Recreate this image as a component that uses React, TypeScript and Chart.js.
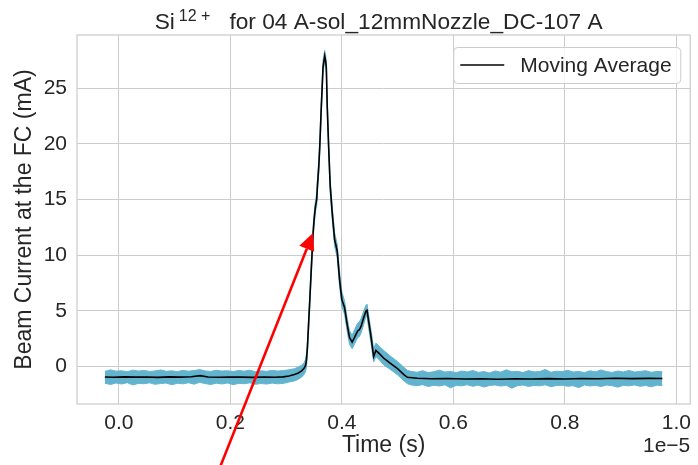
import React, { useEffect, useRef } from "react";
import { Chart, registerables } from "chart.js";

Chart.register(...registerables);

// ---- tick labels / axes (time in units of 1e-5 s) ----
const xTicks = [0, 0.2, 0.4, 0.6, 0.8, 1.0];
const yTicks = [0, 5, 10, 15, 20, 25];
const xOffsetLabel = "1e\u22125";
const xRange = [-0.075, 1.025];
const yRange = [-3.37, 29.78];

// ---- moving average (black) ----
const avgX = [
  -0.025, -0.01, 0.01, 0.03, 0.05, 0.07, 0.09, 0.11, 0.13, 0.146,
  0.16, 0.18, 0.2, 0.22, 0.24, 0.26, 0.28, 0.295, 0.305, 0.315,
  0.322, 0.328, 0.3325, 0.335, 0.3365, 0.3383, 0.3395, 0.3425, 0.3454, 0.3484,
  0.3502, 0.3525, 0.355, 0.3561, 0.3586, 0.3604, 0.3632, 0.3663, 0.3693, 0.3708,
  0.3722, 0.3739, 0.3764, 0.3792, 0.3828, 0.3871, 0.3917, 0.396, 0.4001, 0.4049,
  0.4095, 0.4138, 0.4185, 0.4227, 0.4256, 0.4286, 0.4316, 0.4345, 0.4393, 0.4434,
  0.4452, 0.4477, 0.4523, 0.4571, 0.4612, 0.4673, 0.4762, 0.4879, 0.4999, 0.5118,
  0.5177, 0.5355, 0.56, 0.59, 0.62, 0.65, 0.68, 0.71, 0.74, 0.77,
  0.8, 0.83, 0.86, 0.89, 0.92, 0.95, 0.975,
];
const avgY = [
  -0.95, -0.97, -0.93, -0.96, -0.94, -0.98, -0.93, -0.96, -0.92, -0.82,
  -0.95, -0.97, -0.94, -0.96, -0.98, -0.95, -0.97, -0.93, -0.85, -0.72,
  -0.58, -0.4, -0.15, 0.1, 0.55, 1.7, 2.9, 5.9, 8.9, 11.9,
  13.1, 14.3, 15.0, 16.1, 17.9, 19.7, 23.3, 26.9, 27.9, 27.5,
  26.9, 23.3, 19.7, 16.2, 13.8, 11.4, 10.4, 7.8, 6.0, 5.3,
  3.8, 2.6, 2.2, 2.6, 2.9, 3.2, 3.3, 3.6, 4.4, 5.0,
  5.05, 4.2, 2.7, 0.9, 1.45, 1.15, 0.7, 0.25, -0.2, -0.75,
  -0.97, -1.06, -1.1, -1.08, -1.12, -1.1, -1.14, -1.1, -1.12, -1.09,
  -1.13, -1.08, -1.1, -1.06, -1.09, -1.07, -1.08,
];

// ---- raw signal envelope (cyan band): time, upper edge, lower edge ----
const rawX = [
  -0.025, -0.015, -0.005, 0.005, 0.015, 0.025, 0.035, 0.045, 0.055, 0.065,
  0.075, 0.085, 0.095, 0.105, 0.115, 0.125, 0.135, 0.145, 0.155, 0.165,
  0.175, 0.185, 0.195, 0.205, 0.215, 0.225, 0.235, 0.245, 0.255, 0.265,
  0.275, 0.285, 0.295, 0.305, 0.315, 0.322, 0.328, 0.3325, 0.335,
  0.3365, 0.3383, 0.3395, 0.3425, 0.3454, 0.3484, 0.3502, 0.3525, 0.355, 0.3561,
  0.3586, 0.3604, 0.3632, 0.3663, 0.3693, 0.3708, 0.3722, 0.3739, 0.3764, 0.3792,
  0.3828, 0.3871, 0.3917, 0.396, 0.4001, 0.4049, 0.4095, 0.4138, 0.4185, 0.4227,
  0.4256, 0.4286, 0.4316, 0.4345, 0.4393, 0.4434, 0.4452, 0.4477, 0.4523, 0.4571,
  0.4612, 0.4673, 0.4762, 0.4879, 0.4999, 0.5118, 0.5177,
  0.525, 0.535, 0.545, 0.555, 0.565, 0.575, 0.585, 0.595, 0.605, 0.615,
  0.625, 0.635, 0.645, 0.655, 0.665, 0.675, 0.685, 0.695, 0.705, 0.715,
  0.725, 0.735, 0.745, 0.755, 0.765, 0.775, 0.785, 0.795, 0.805, 0.815,
  0.825, 0.835, 0.845, 0.855, 0.865, 0.875, 0.885, 0.895, 0.905, 0.915,
  0.925, 0.935, 0.945, 0.955, 0.965, 0.975,
];
const rawHigh = [
  -0.45, -0.3, -0.42, -0.38, -0.47, -0.33, -0.41, -0.36, -0.44, -0.4,
  -0.31, -0.43, -0.39, -0.46, -0.35, -0.42, -0.37, -0.28, -0.4, -0.44,
  -0.34, -0.41, -0.38, -0.45, -0.36, -0.42, -0.33, -0.47, -0.39, -0.43,
  -0.35, -0.41, -0.37, -0.3, -0.2, -0.05, 0.12, 0.35, 0.65,
  1.1, 2.3, 3.5, 6.5, 9.5, 12.5, 13.7, 14.8, 15.6, 16.7,
  18.5, 20.3, 23.9, 27.5, 28.4, 28.0, 27.4, 23.9, 20.3, 16.8,
  14.4, 12.0, 11.0, 8.5, 6.7, 5.9, 4.4, 3.2, 2.8, 3.3,
  3.6, 3.9, 4.0, 4.3, 5.0, 5.5, 5.6, 4.8, 3.3, 1.6,
  2.1, 1.8, 1.4, 0.9, 0.45, -0.1, -0.35,
  -0.45, -0.52, -0.38, -0.55, -0.47, -0.33, -0.5, -0.44, -0.56, -0.41,
  -0.49, -0.36, -0.53, -0.46, -0.58, -0.4, -0.51, -0.3, -0.48, -0.43,
  -0.55, -0.37, -0.49, -0.45, -0.27, -0.52, -0.42, -0.47, -0.34, -0.5,
  -0.44, -0.56, -0.39, -0.48, -0.31, -0.46, -0.53, -0.41, -0.49, -0.36,
  -0.5, -0.44, -0.38, -0.52, -0.45, -0.47,
];
const rawLow = [
  -1.5, -1.62, -1.48, -1.58, -1.45, -1.66, -1.52, -1.55, -1.47, -1.6,
  -1.53, -1.49, -1.64, -1.51, -1.56, -1.46, -1.59, -1.42, -1.54, -1.61,
  -1.5, -1.57, -1.48, -1.63, -1.52, -1.55, -1.47, -1.6, -1.53, -1.58,
  -1.49, -1.56, -1.52, -1.4, -1.3, -1.15, -0.95, -0.7, -0.45,
  -0.1, 1.1, 2.3, 5.3, 8.3, 11.3, 12.6, 13.8, 14.5, 15.5,
  17.3, 19.1, 22.7, 26.3, 27.4, 27.0, 26.3, 22.7, 19.1, 15.6,
  13.2, 10.8, 9.8, 7.2, 5.4, 4.7, 3.2, 2.0, 1.6, 2.0,
  2.3, 2.6, 2.7, 3.0, 3.8, 4.5, 4.5, 3.6, 2.1, 0.4,
  0.9, 0.6, 0.1, -0.3, -0.75, -1.3, -1.55,
  -1.66, -1.72, -1.63, -1.8, -1.69, -1.75, -1.65, -1.92, -1.7, -1.74,
  -1.64, -1.78, -1.68, -1.85, -1.71, -1.66, -1.76, -1.69, -1.95, -1.72,
  -1.67, -1.79, -1.7, -1.74, -1.65, -1.82, -1.71, -1.68, -1.77, -1.73,
  -1.9, -1.66, -1.75, -1.7, -1.8, -1.67, -1.73, -1.86, -1.69, -1.74,
  -1.66, -1.78, -1.71, -1.83, -1.68, -1.72,
];

// ---- red annotation arrow, in data coordinates ----
const arrowTail = [0.174, -10];
const arrowHead = [0.3484, 12.0];

const TEXT = "#262626";
const GRID = "#cccccc";
const CYAN = "#62b4ce";
const FONT = '"Liberation Sans", Arial, sans-serif';

const decor = {
  id: "decor",
  afterDatasetsDraw(chart: any) {
    const { ctx, chartArea: a, scales } = chart;
    ctx.save();
    // frame
    ctx.strokeStyle = GRID;
    ctx.lineWidth = 1.25;
    ctx.strokeRect(a.left, a.top, a.right - a.left, a.bottom - a.top);

    // legend
    const bw = 227, bh = 36;
    const bx = a.right - 10 - bw, by = a.top + 12;
    ctx.beginPath();
    ctx.roundRect(bx + 0.5, by + 0.5, bw, bh, 4);
    ctx.fillStyle = "rgba(255,255,255,0.8)";
    ctx.fill();
    ctx.strokeStyle = GRID;
    ctx.lineWidth = 1;
    ctx.stroke();
    const my = by + bh / 2;
    ctx.beginPath();
    ctx.moveTo(bx + 7, my);
    ctx.lineTo(bx + 51, my);
    ctx.strokeStyle = "#000";
    ctx.lineWidth = 1.7;
    ctx.stroke();
    ctx.fillStyle = TEXT;
    ctx.font = `21px ${FONT}`;
    ctx.textBaseline = "middle";
    ctx.textAlign = "left";
    ctx.fillText("Moving Average", bx + 67, my + 1);

    // arrow
    const x1 = scales.x.getPixelForValue(arrowTail[0]);
    const y1 = scales.y.getPixelForValue(arrowTail[1]);
    const x2 = scales.x.getPixelForValue(arrowHead[0]);
    const y2 = scales.y.getPixelForValue(arrowHead[1]);
    const ang = Math.atan2(y2 - y1, x2 - x1);
    const hl = 17, hw = 8;
    const bxp = x2 - hl * Math.cos(ang), byp = y2 - hl * Math.sin(ang);
    ctx.beginPath();
    ctx.moveTo(x1, y1);
    ctx.lineTo(bxp, byp);
    ctx.strokeStyle = "#ff0000";
    ctx.lineWidth = 2.6;
    ctx.stroke();
    ctx.beginPath();
    ctx.moveTo(x2, y2);
    ctx.lineTo(bxp + hw * Math.sin(ang), byp - hw * Math.cos(ang));
    ctx.lineTo(bxp - hw * Math.sin(ang), byp + hw * Math.cos(ang));
    ctx.closePath();
    ctx.fillStyle = "#ff0000";
    ctx.fill();
    ctx.restore();
  },
  afterDraw(chart: any) {
    const { ctx, chartArea: a } = chart;
    ctx.save();
    ctx.fillStyle = TEXT;
    ctx.textBaseline = "alphabetic";
    ctx.textAlign = "left";
    // title with superscript
    const big = `22.7px ${FONT}`, small = `16px ${FONT}`;
    ctx.font = big;
    const wSi = ctx.measureText("Si").width;
    const rest = "for 04 A-sol_12mmNozzle_DC-107 A";
    const wRest = ctx.measureText(rest).width;
    ctx.font = small;
    const sup = "12 +";
    const wSup = ctx.measureText(sup).width;
    const gap1 = 4, gap2 = 19;
    const total = wSi + gap1 + wSup + gap2 + wRest;
    const cx = (a.left + a.right) / 2 - 5;
    let x = cx - total / 2;
    ctx.font = big;
    ctx.fillText("Si", x, 28.5);
    x += wSi + gap1;
    ctx.font = small;
    ctx.fillText(sup, x, 20.7);
    x += wSup + gap2;
    ctx.font = big;
    ctx.fillText(rest, x, 28.5);

    // x axis title and offset
    ctx.textBaseline = "middle";
    ctx.textAlign = "center";
    ctx.font = `23px ${FONT}`;
    ctx.fillText("Time (s)", (a.left + a.right) / 2, a.bottom + 42);
    ctx.textAlign = "right";
    ctx.font = `21px ${FONT}`;
    ctx.fillText(xOffsetLabel, a.right, a.bottom + 42);

    // y axis title
    ctx.translate(25, (a.top + a.bottom) / 2);
    ctx.rotate(-Math.PI / 2);
    ctx.textAlign = "center";
    ctx.font = `23px ${FONT}`;
    ctx.fillText("Beam Current at the FC (mA)", 0, 0);
    ctx.restore();
  },
};

export default function App() {
  const ref = useRef<HTMLCanvasElement | null>(null);
  useEffect(() => {
    if (!ref.current) return;
    const avgData = avgX.map((x, i) => ({ x, y: avgY[i] }));
    const lowData = rawX.map((x, i) => ({ x, y: rawLow[i] }));
    const highData = rawX.map((x, i) => ({ x, y: rawHigh[i] }));
    const chart = new Chart(ref.current, {
      type: "line",
      data: {
        datasets: [
          {
            label: "Moving Average",
            data: avgData,
            borderColor: "#000000",
            borderWidth: 1.6,
            pointRadius: 0,
            fill: false,
            tension: 0,
          },
          {
            label: "raw low",
            data: lowData,
            borderColor: CYAN,
            borderWidth: 1,
            pointRadius: 0,
            fill: false,
            tension: 0,
          },
          {
            label: "raw high",
            data: highData,
            borderColor: CYAN,
            backgroundColor: CYAN,
            borderWidth: 1,
            pointRadius: 0,
            fill: "-1",
            tension: 0,
          },
        ],
      },
      options: {
        responsive: false,
        animation: false,
        devicePixelRatio: 1,
        layout: { padding: { top: 35, right: 4, left: 0, bottom: 0 } },
        plugins: {
          legend: { display: false },
          tooltip: { enabled: false },
          title: { display: false },
        },
        scales: {
          x: {
            type: "linear",
            min: xRange[0],
            max: xRange[1],
            afterFit: (s: any) => {
              s.height = 61;
            },
            afterBuildTicks: (s: any) => {
              s.ticks = xTicks.map((v) => ({ value: v }));
            },
            grid: { color: GRID, lineWidth: 1, drawTicks: false },
            border: { display: false },
            ticks: {
              padding: 7,
              color: TEXT,
              font: { family: FONT, size: 21 },
              maxRotation: 0,
              callback: (v: any) => Number(v).toFixed(1),
            },
          },
          y: {
            type: "linear",
            min: yRange[0],
            max: yRange[1],
            afterFit: (s: any) => {
              s.width = 77;
            },
            afterBuildTicks: (s: any) => {
              s.ticks = yTicks.map((v) => ({ value: v }));
            },
            grid: { color: GRID, lineWidth: 1, drawTicks: false },
            border: { display: false },
            ticks: {
              padding: 10,
              color: TEXT,
              font: { family: FONT, size: 21 },
              callback: (v: any) => String(v),
            },
          },
        },
      },
      plugins: [decor],
    });
    return () => chart.destroy();
  }, []);
  return (
    <div style={{ position: "fixed", left: 0, top: 0, width: 698, height: 465, background: "#fff" }}>
      <canvas ref={ref} width={698} height={465} style={{ width: 698, height: 465, display: "block" }} />
    </div>
  );
}
